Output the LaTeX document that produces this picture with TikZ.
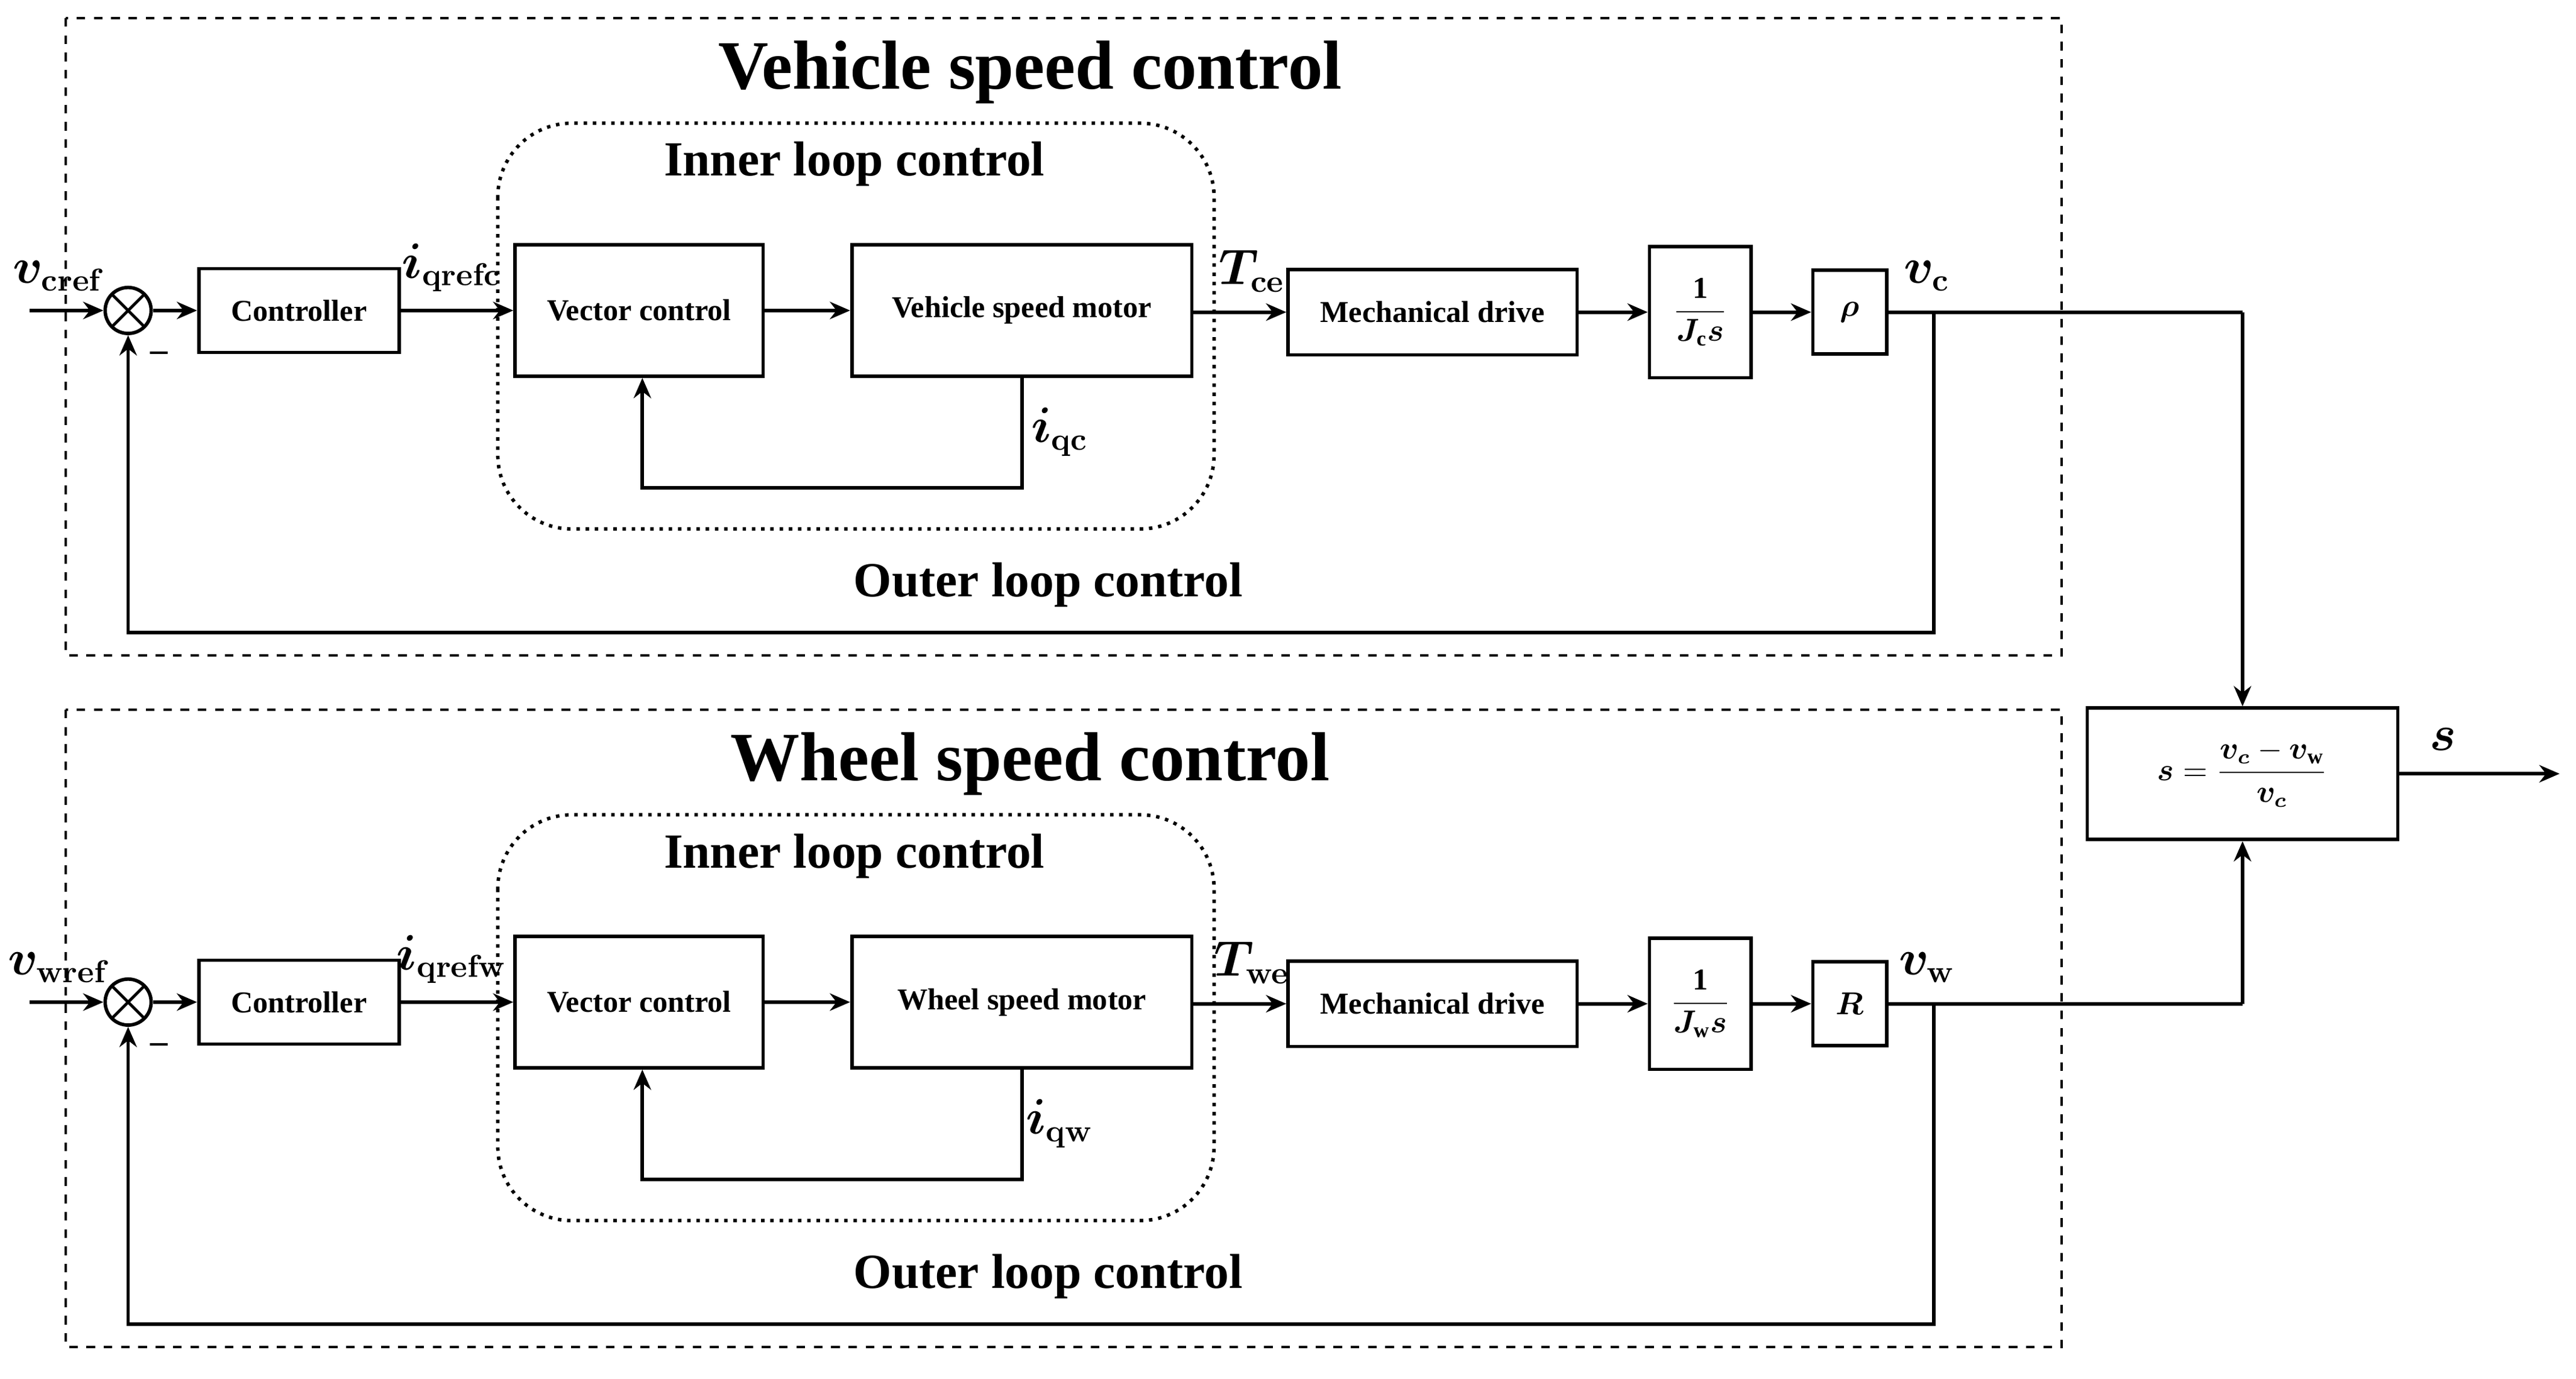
\documentclass[tikz,border=0pt]{standalone}
\usepackage{amsmath,bm}
\usepackage{fontspec}
\setmainfont{Liberation Serif}
\usetikzlibrary{arrows.meta}
\begin{document}
\begin{tikzpicture}[x=0.02cm,y=-0.02cm,
 blk/.style={draw,line width=1.2pt,font=\bfseries\fontsize{10.5}{12}\selectfont,inner sep=0},
 ar/.style={-{Stealth[length=7pt,width=6pt]},line width=1.2pt},
 ln/.style={line width=1.2pt},
 lab/.style={font=\boldmath\fontsize{16}{18}\selectfont},
 ttl/.style={font=\bfseries\fontsize{24}{28}\selectfont},
 sub/.style={font=\bfseries\fontsize{17}{20}\selectfont},
 sum/.style={draw,circle,line width=1.2pt,minimum size=0.56cm,inner sep=0,path picture={\draw[line width=1pt] (path picture bounding box.north west)--(path picture bounding box.south east) (path picture bounding box.south west)--(path picture bounding box.north east);}}]
\useasboundingbox (0,0) rectangle (1568,839.4);
\foreach \dy/\T/\M/\lc/\lm/\lq/\lT/\J/\G/\lv in {0/Vehicle/Vehicle/c/qrefc/qc/ce/c/\rho/c, 421/Wheel/Wheel/w/qrefw/qw/we/w/R/w}{
\begin{scope}[yshift=-\dy*0.02cm]
\draw[dashed,line width=0.8pt] (40,11) rectangle (1255,399);
\node[ttl] (t\lc) at (627,44) {\T\ speed control};
\draw[dotted,line width=1.2pt,rounded corners=0.9cm] (303,75) rectangle (739,322);
\node[sub] (in\lc) at (520,100) {Inner loop control};
\node[sub] (out\lc) at (638,356) {Outer loop control};
\node[sum] (s\lc) at (78,189) {};
\coordinate (in0\lc) at (18,189);
\draw[ar] (in0\lc) -- (s\lc);
\node[lab] at (36,168) {$\bm{v}_{\mathbf{\lc ref}}$};
\node[font=\bfseries\large] at (97,214) {\_};
\node[blk,minimum width=2.44cm,minimum height=1.02cm] (c\lc) at (182,189) {Controller};
\draw[ar] (s\lc) -- (c\lc);
\node[blk,minimum width=3.02cm,minimum height=1.6cm] (vc\lc) at (389,189) {Vector control};
\draw[ar] (c\lc) -- (vc\lc);
\node[lab] at (275,163) {$\bm{i}_{\mathbf{\lm}}$};
\node[blk,minimum width=4.14cm,minimum height=1.6cm] (m\lc) at (622,189) {\M\ speed motor};
\draw[ar] (vc\lc) -- (m\lc);
\coordinate (f1\lc) at (622,297);
\coordinate (f2\lc) at (391,297);
\draw[ar] (m\lc.south -| f1\lc) -- (f1\lc) -- (f2\lc) -- (vc\lc.south -| f2\lc);
\node[lab] at (645,263) {$\bm{i}_{\mathbf{\lq}}$};
\node[blk,minimum width=3.52cm,minimum height=1.04cm] (md\lc) at (872,190) {Mechanical drive};
\draw[ar] (m\lc.east |- md\lc) -- (md\lc);
\node[lab] at (762,165) {$\bm{T}_{\mathbf{\lT}}$};
\node[blk,minimum width=1.24cm,minimum height=1.6cm] (j\lc) at (1035,190) {$\dfrac{\mathbf{1}}{\bm{J}_{\mathbf{\J}}\bm{s}}$};
\draw[ar] (md\lc) -- (j\lc);
\node[blk,minimum width=0.9cm,minimum height=1.02cm] (g\lc) at (1126,190) {$\bm{\G}$};
\draw[ar] (j\lc) -- (g\lc);
\node[lab] at (1173,168) {$\bm{v}_{\mathbf{\lv}}$};
\coordinate (b\lc) at (1177,190);
\coordinate (b2\lc) at (1177,385);
\coordinate (b3\lc) at (78,385);
\draw[ar] (b\lc) -- (b2\lc) -- (b3\lc) -- (s\lc);
\coordinate (o\lc) at (1365,190);
\end{scope}}
\node[blk,minimum width=3.78cm,minimum height=1.6cm] (S) at (1365,471) {$\bm{s}=\dfrac{\bm{v}_{\bm{c}}-\bm{v}_{\mathbf{w}}}{\bm{v}_{\bm{c}}}$};
\draw[ln] (gc) -- (oc); \draw[ar] (oc) -- (S);
\draw[ln] (gw) -- (ow); \draw[ar] (ow) -- (S);
\coordinate (sout) at (1558,471);
\draw[ar] (S) -- (sout);
\node[lab] at (1487,450) {$\bm{s}$};
\end{tikzpicture}
\end{document}
